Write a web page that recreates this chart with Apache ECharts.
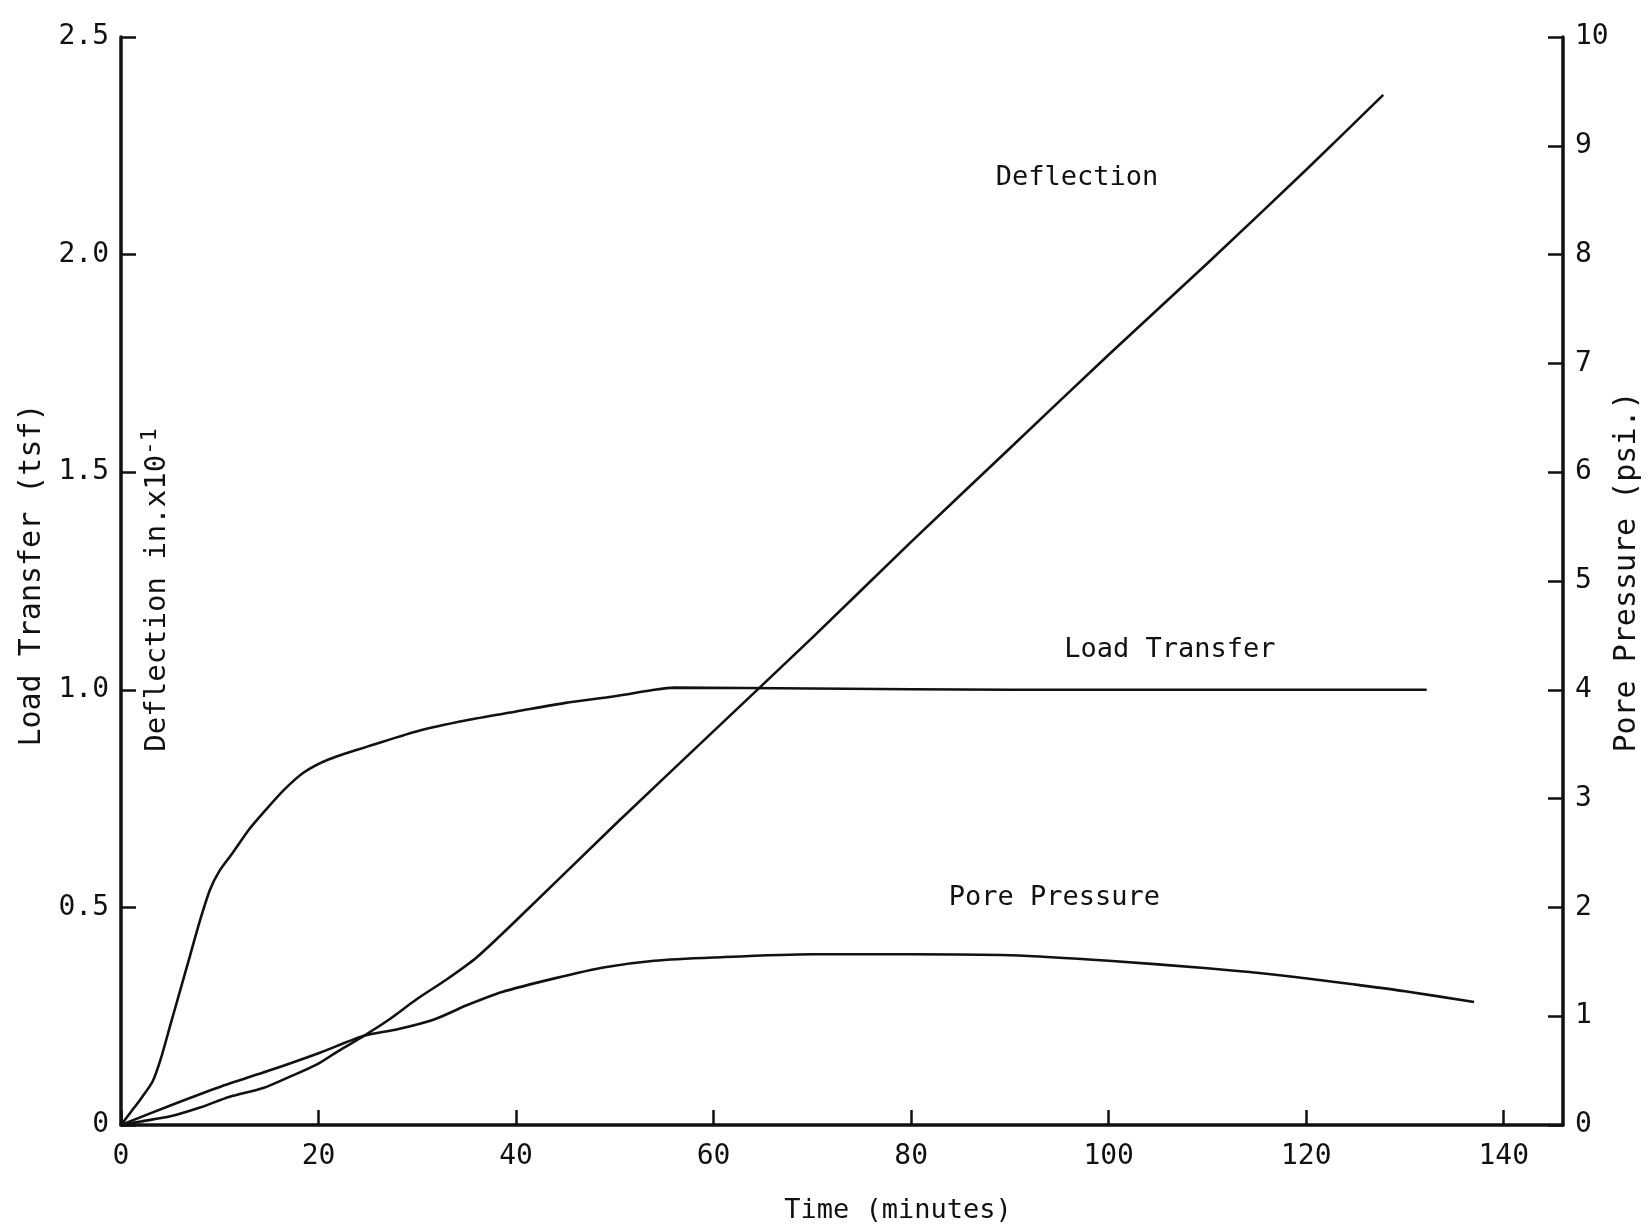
<!DOCTYPE html>
<html>
<head>
<meta charset="utf-8">
<script src="https://cdn.jsdelivr.net/npm/echarts@6/dist/echarts.min.js"></script>
<style>
  html, body { margin: 0; padding: 0; background: #fff; }
  #chart { width: 1651px; height: 1231px; }
</style>
</head>
<body>
<div id="chart"></div>
<script>
// values (time in minutes)
const timeLoad = [0, 1, 2, 3.2, 4, 5, 6, 7, 8, 9, 10, 11.3, 13, 14.5, 16.5, 18.5, 21, 25, 30, 35, 40, 45, 50, 54, 56, 70, 90, 110, 132.2]
const loadTransfer = [0, 0.03, 0.06, 0.1, 0.15, 0.23, 0.31, 0.39, 0.47, 0.54, 0.585, 0.625, 0.68, 0.72, 0.77, 0.81, 0.84, 0.87, 0.905, 0.93, 0.95, 0.97, 0.985, 1.0, 1.005, 1.003, 1.0, 1.0, 1.0]

const timeDefl = [0, 2, 5, 8, 11, 14.4, 17, 19.9, 22, 24.6, 27, 30, 33, 36, 40, 50, 60, 70, 80, 90, 100, 110, 120, 127.8]
const deflection = [0, 0.008, 0.02, 0.04, 0.065, 0.085, 0.11, 0.14, 0.17, 0.205, 0.24, 0.29, 0.335, 0.385, 0.47, 0.69, 0.905, 1.12, 1.34, 1.555, 1.77, 1.98, 2.195, 2.367]

const timePore = [0, 5, 10, 15, 20, 24.6, 28, 31.7, 35, 38.5, 44, 49, 54, 60, 70, 80, 90, 100, 110, 118, 125, 130, 137]
const porePressure = [0, 0.18, 0.35, 0.5, 0.66, 0.82, 0.88, 0.97, 1.1, 1.22, 1.35, 1.45, 1.51, 1.54, 1.57, 1.57, 1.56, 1.51, 1.44, 1.37, 1.29, 1.23, 1.13]

// curve captions: [time, value]
const deflLabelAt = [96.8, 2.176]
const loadLabelAt = [106.2, 1.091]
const poreLabelAt = [94.5, 2.09]

const FONT = 'DejaVu Sans Mono'
const INK = '#111'

const zip = (xs, ys) => xs.map((x, i) => [x, ys[i]])

const caption = (text, coord) => ({
  silent: true,
  symbol: 'rect',
  symbolSize: 1,
  itemStyle: { color: 'rgba(0,0,0,0)' },
  label: { show: true, position: 'inside', formatter: text, fontFamily: FONT, fontSize: 27, color: INK },
  data: [{ coord }]
})

const lineSeries = (name, data, yAxisIndex, label) => ({
  name,
  type: 'line',
  yAxisIndex,
  data,
  smooth: 0.25,
  showSymbol: false,
  lineStyle: { color: INK, width: 2.6 },
  markPoint: label
})

const axisCommon = {
  axisLine: { show: true, onZero: false, lineStyle: { color: INK, width: 3.5 } },
  axisTick: { show: true, inside: true, length: 15, lineStyle: { color: INK, width: 2.5 } },
  splitLine: { show: false },
  axisLabel: { fontFamily: FONT, fontSize: 28, color: INK }
}

const chart = echarts.init(document.getElementById('chart'))

chart.setOption({
  animation: false,
  backgroundColor: '#fff',
  grid: { left: 121, right: 88, top: 37, bottom: 106 },
  xAxis: {
    type: 'value',
    min: 0,
    max: 146,
    interval: 20,
    ...axisCommon,
    axisLabel: { ...axisCommon.axisLabel, margin: 18, showMaxLabel: false }
  },
  yAxis: [
    {
      type: 'value',
      position: 'left',
      min: 0,
      max: 2.5,
      interval: 0.5,
      ...axisCommon,
      axisLabel: { ...axisCommon.axisLabel, margin: 12, formatter: v => (v === 0 ? '0' : v.toFixed(1)) }
    },
    {
      type: 'value',
      position: 'right',
      min: 0,
      max: 10,
      interval: 1,
      ...axisCommon,
      axisLabel: { ...axisCommon.axisLabel, margin: 12 }
    }
  ],
  series: [
    lineSeries('Load Transfer', zip(timeLoad, loadTransfer), 0, caption('Load Transfer', loadLabelAt)),
    lineSeries('Deflection', zip(timeDefl, deflection), 0, caption('Deflection', deflLabelAt)),
    lineSeries('Pore Pressure', zip(timePore, porePressure), 1, caption('Pore Pressure', poreLabelAt))
  ],
  graphic: [
    {
      type: 'text', x: 32, y: 575, rotation: Math.PI / 2,
      style: { text: 'Load Transfer (tsf)', font: `30px "${FONT}"`, fill: INK, align: 'center', verticalAlign: 'middle' }
    },
    {
      type: 'text', x: 157, y: 590, rotation: Math.PI / 2,
      style: {
        text: 'Deflection in.x10{sup|-1}',
        font: `29px "${FONT}"`, fill: INK, align: 'center', verticalAlign: 'middle',
        rich: { sup: { fontFamily: FONT, fontSize: 22, fill: INK, verticalAlign: 'top', padding: [0, 0, 14, 0] } }
      }
    },
    {
      type: 'text', x: 1627, y: 572, rotation: Math.PI / 2,
      style: { text: 'Pore Pressure (psi.)', font: `30px "${FONT}"`, fill: INK, align: 'center', verticalAlign: 'middle' }
    },
    {
      type: 'text', x: 898, y: 1211,
      style: { text: 'Time (minutes)', font: `27px "${FONT}"`, fill: INK, align: 'center', verticalAlign: 'middle' }
    }
  ]
})

window.addEventListener('resize', () => chart.resize())
</script>
</body>
</html>
